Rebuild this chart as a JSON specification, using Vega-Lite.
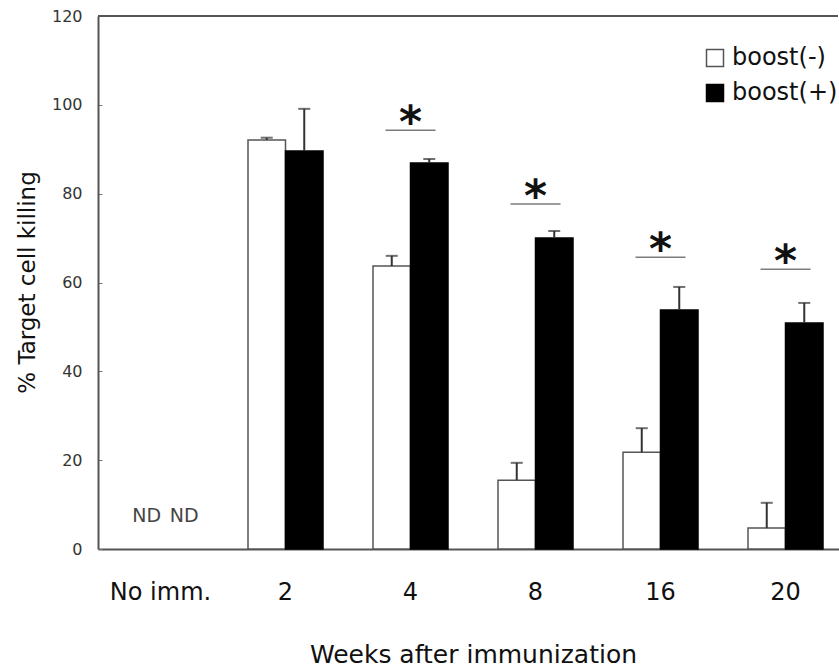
{
  "$schema": "https://vega.github.io/schema/vega-lite/v6.json",
  "autosize": {"type": "none"},
  "padding": {"left": 98, "top": 16, "right": 1, "bottom": 123},
  "width": 740,
  "height": 533,
  "datasets": {
    "main": [
      {"week": "No imm.", "group": "boost(-)", "value": null, "upper": null, "note": "ND"},
      {"week": "No imm.", "group": "boost(+)", "value": null, "upper": null, "note": "ND"},
      {"week": "2", "group": "boost(-)", "value": 92.1, "upper": 92.6, "note": ""},
      {"week": "2", "group": "boost(+)", "value": 89.6, "upper": 99.1, "note": ""},
      {"week": "4", "group": "boost(-)", "value": 63.7, "upper": 66.0, "note": ""},
      {"week": "4", "group": "boost(+)", "value": 86.9, "upper": 87.8, "note": ""},
      {"week": "8", "group": "boost(-)", "value": 15.5, "upper": 19.4, "note": ""},
      {"week": "8", "group": "boost(+)", "value": 70.0, "upper": 71.6, "note": ""},
      {"week": "16", "group": "boost(-)", "value": 21.8, "upper": 27.2, "note": ""},
      {"week": "16", "group": "boost(+)", "value": 53.8, "upper": 59.0, "note": ""},
      {"week": "20", "group": "boost(-)", "value": 4.7, "upper": 10.4, "note": ""},
      {"week": "20", "group": "boost(+)", "value": 50.9, "upper": 55.4, "note": ""}
    ],
    "sig": [
      {"week": "4", "level": 94.3, "mark": "*"},
      {"week": "8", "level": 77.7, "mark": "*"},
      {"week": "16", "level": 65.7, "mark": "*"},
      {"week": "20", "level": 63.0, "mark": "*"}
    ],
    "frame": [{"top": 120}]
  },
  "layer": [
    {
      "data": {"name": "main"},
      "mark": {"type": "bar", "strokeWidth": 1.5},
      "encoding": {
        "x": {
          "field": "week", "type": "nominal",
          "scale": {"domain": ["No imm.", "2", "4", "8", "16", "20"], "paddingInner": 0.4, "paddingOuter": 0.2, "range": [0, 750]},
          "axis": {
            "title": "Weeks after immunization",
            "labelAngle": 0, "labelFontSize": 24, "labelColor": "#111", "labelBaseline": "alphabetic", "labelPadding": 50,
            "ticks": false, "tickSize": 0,
            "domainColor": "#555", "domainWidth": 2,
            "titleFontSize": 25, "titleFontWeight": "normal", "titleColor": "#111",
            "titleX": 375, "titleY": 113, "titleBaseline": "alphabetic"
          }
        },
        "xOffset": {"field": "group", "type": "nominal", "scale": {"domain": ["boost(-)", "boost(+)"], "paddingInner": 0, "paddingOuter": 0}},
        "y": {
          "field": "value", "type": "quantitative",
          "scale": {"domain": [0, 120], "nice": false},
          "axis": {
            "title": "% Target cell killing",
            "values": [0, 20, 40, 60, 80, 100, 120],
            "grid": false, "labelFontSize": 16, "labelColor": "#333",
            "tickSize": -4, "tickColor": "#777", "tickWidth": 1, "labelPadding": 20,
            "domainColor": "#555", "domainWidth": 2,
            "titleFontSize": 23, "titleFontWeight": "normal", "titleColor": "#111",
            "titleX": -64, "titleY": 266, "titleBaseline": "alphabetic"
          }
        },
        "fill": {
          "field": "group", "type": "nominal",
          "scale": {"domain": ["boost(-)", "boost(+)"], "range": ["#ffffff", "#000000"]},
          "legend": {
            "title": null, "orient": "none", "legendX": 605, "legendY": 30,
            "symbolType": "square", "symbolSize": 289, "symbolStrokeWidth": 1.5,
            "labelFontSize": 24, "labelColor": "#111", "labelOffset": 5, "rowPadding": 11, "padding": 0
          }
        },
        "stroke": {
          "field": "group", "type": "nominal",
          "scale": {"domain": ["boost(-)", "boost(+)"], "range": ["#555555", "#000000"]},
          "legend": {
            "title": null, "orient": "none", "legendX": 605, "legendY": 30,
            "symbolType": "square", "symbolSize": 289, "symbolStrokeWidth": 1.5,
            "labelFontSize": 24, "labelColor": "#111", "labelOffset": 5, "rowPadding": 11, "padding": 0
          }
        }
      }
    },
    {
      "data": {"name": "main"},
      "mark": {"type": "rule", "color": "#333", "strokeWidth": 2},
      "encoding": {
        "x": {"field": "week", "type": "nominal"},
        "xOffset": {"field": "group", "type": "nominal"},
        "y": {"field": "value", "type": "quantitative"},
        "y2": {"field": "upper"}
      }
    },
    {
      "data": {"name": "main"},
      "mark": {"type": "tick", "color": "#333", "size": 12, "thickness": 2},
      "encoding": {
        "x": {"field": "week", "type": "nominal"},
        "xOffset": {"field": "group", "type": "nominal"},
        "y": {"field": "upper", "type": "quantitative"}
      }
    },
    {
      "data": {"name": "main"},
      "transform": [{"filter": "datum.note == 'ND'"}],
      "mark": {"type": "text", "fontSize": 19, "color": "#444", "baseline": "alphabetic", "dy": -27, "dx": 5},
      "encoding": {
        "x": {"field": "week", "type": "nominal"},
        "xOffset": {"field": "group", "type": "nominal"},
        "y": {"datum": 0},
        "text": {"field": "note"}
      }
    },
    {
      "data": {"name": "sig"},
      "mark": {"type": "tick", "color": "#444", "size": 50, "thickness": 1.5},
      "encoding": {
        "x": {"field": "week", "type": "nominal"},
        "y": {"field": "level", "type": "quantitative"}
      }
    },
    {
      "data": {"name": "sig"},
      "mark": {"type": "text", "fontSize": 44, "fontWeight": "bold", "color": "#111", "baseline": "alphabetic", "dy": 7},
      "encoding": {
        "x": {"field": "week", "type": "nominal"},
        "y": {"field": "level", "type": "quantitative"},
        "text": {"field": "mark"}
      }
    },
    {
      "data": {"name": "frame"},
      "mark": {"type": "rule", "color": "#555", "strokeWidth": 2},
      "encoding": {
        "y": {"field": "top", "type": "quantitative"}
      }
    }
  ],
  "config": {
    "font": "DejaVu Sans",
    "view": {"stroke": null},
    "axis": {"grid": false}
  }
}
